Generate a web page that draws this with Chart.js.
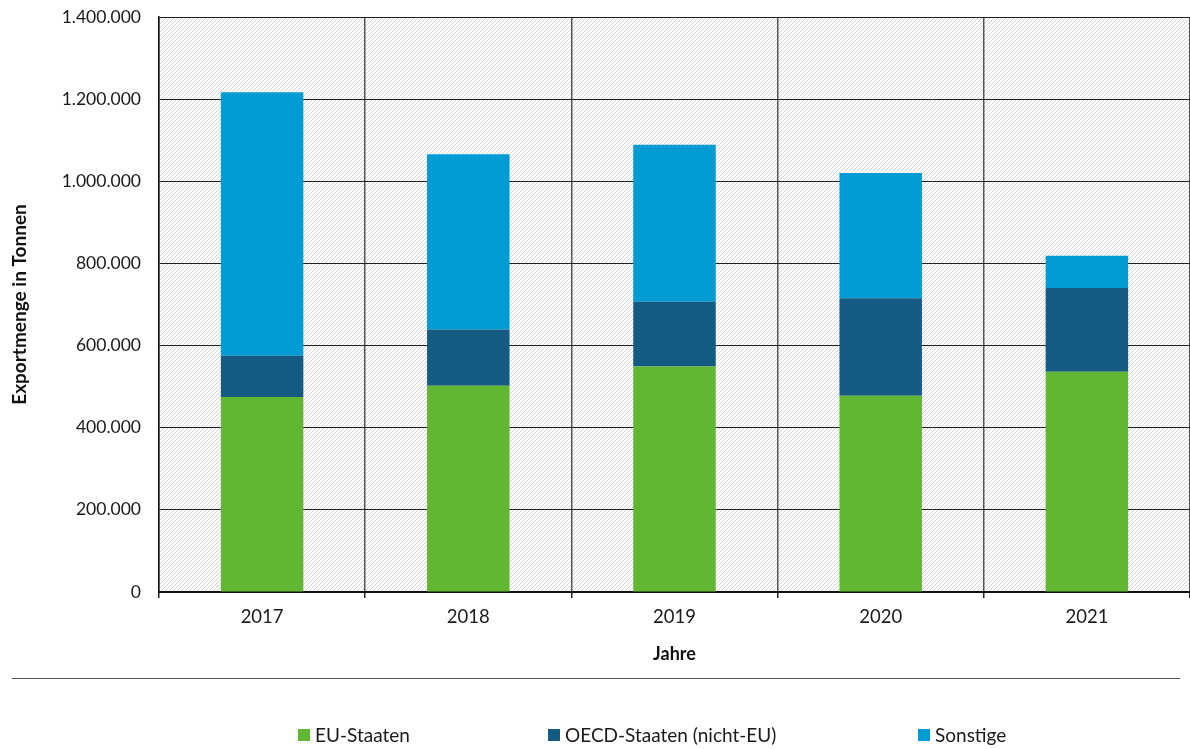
<!DOCTYPE html>
<html lang="de">
<head>
    <meta charset="UTF-8">
    <title>Exportmenge</title>
    <script src="https://cdn.jsdelivr.net/npm/chart.js@4.4.0/dist/chart.umd.min.js"></script>
    <style>
        html, body {
            margin: 0;
            padding: 0;
            background: #fff;
        }
        .chart-container {
            position: relative;
            width: 1190px;
            height: 749px;
        }
    </style>
</head>
<body>

<div class="chart-container">
    <canvas id="chart"></canvas>
</div>

<script>

// Exportmengen in Tonnen je Jahr
var years = ['2017', '2018', '2019', '2020', '2021'];
var euStaaten = [475000, 502000, 549000, 478000, 536000];
var oecdStaaten = [100000, 137000, 158000, 237000, 204000];
var sonstige = [642000, 427000, 382000, 305000, 79000];

var yTicks = [0, 200000, 400000, 600000, 800000, 1000000, 1200000, 1400000];

var FONT = 'Lato, "Open Sans", sans-serif';

function formatDE(v) {
    return String(v).replace(/\B(?=(\d{3})+(?!\d))/g, '.');
}

// schraffierter Hintergrund
function makeHatch() {
    var c = document.createElement('canvas');
    c.width = 4;
    c.height = 4;
    var g = c.getContext('2d');
    g.fillStyle = '#ffffff';
    g.fillRect(0, 0, 4, 4);
    g.strokeStyle = '#d6d6d6';
    g.lineWidth = 1;
    g.beginPath();
    g.moveTo(-1, 5); g.lineTo(5, -1);
    g.moveTo(-1, 1); g.lineTo(1, -1);
    g.moveTo(3, 5); g.lineTo(5, 3);
    g.stroke();
    return g.createPattern(c, 'repeat');
}

var hatchPlugin = {
    id: 'hatch',
    beforeDraw: function(chart) {
        var ctx = chart.ctx, a = chart.chartArea;
        ctx.save();
        ctx.fillStyle = makeHatch();
        ctx.fillRect(a.left, a.top, a.right - a.left, a.bottom - a.top);
        ctx.restore();
    }
};

// Trennlinie und Legende unten
var legendPlugin = {
    id: 'bottomLegend',
    afterDraw: function(chart) {
        var ctx = chart.ctx;
        ctx.save();
        ctx.strokeStyle = '#555';
        ctx.lineWidth = 1;
        ctx.beginPath();
        ctx.moveTo(12, 678.5);
        ctx.lineTo(1180, 678.5);
        ctx.stroke();

        var xs = [298, 548, 918];
        ctx.font = '19px ' + FONT;
        ctx.textBaseline = 'middle';
        chart.data.datasets.forEach(function(ds, i) {
            ctx.fillStyle = ds.backgroundColor;
            ctx.fillRect(xs[i], 729, 12, 12);
            ctx.fillStyle = '#1a1a1a';
            ctx.fillText(ds.label, xs[i] + 17, 736);
        });
        ctx.restore();
    }
};

var ctx = document.getElementById('chart').getContext('2d');

var chart = new Chart(ctx, {
    type: 'bar',
    data: {
        labels: years,
        datasets: [
            {
                label: 'EU-Staaten',
                data: euStaaten,
                backgroundColor: '#62b732',
            },
            {
                label: 'OECD-Staaten (nicht-EU)',
                data: oecdStaaten,
                backgroundColor: '#135b82',
            },
            {
                label: 'Sonstige',
                data: sonstige,
                backgroundColor: '#009cd3',
            },
        ]
    },
    options: {
        responsive: true,
        maintainAspectRatio: false,
        animation: false,
        layout: {
            padding: { top: 17, left: 4, right: 0, bottom: 71 }
        },
        datasets: {
            bar: {
                categoryPercentage: 1,
                barPercentage: 0.4,
            }
        },
        plugins: {
            legend: { display: false },
            tooltip: { enabled: false },
        },
        scales: {
            x: {
                stacked: true,
                grid: {
                    offset: true,
                    color: '#555',
                    lineWidth: 1.5,
                    tickLength: 6,
                    tickColor: '#222',
                },
                border: { color: '#111', width: 2 },
                ticks: {
                    color: '#1a1a1a',
                    padding: 8,
                    font: { family: FONT, size: 18.5 },
                },
                title: {
                    display: true,
                    text: 'Jahre',
                    color: '#111',
                    padding: { top: 0, bottom: 13 },
                    font: { family: FONT, size: 18, weight: 'bold' },
                },
                afterFit: function(scale) {
                    scale.height = 86;
                },
            },
            y: {
                stacked: true,
                min: 0,
                max: 1400000,
                afterBuildTicks: function(scale) {
                    scale.ticks = yTicks.map(function(v) { return { value: v }; });
                },
                grid: {
                    color: '#222',
                    lineWidth: 1,
                    drawTicks: false,
                },
                border: { color: '#111', width: 1.5 },
                ticks: {
                    color: '#1a1a1a',
                    padding: 18,
                    font: { family: FONT, size: 17.5 },
                    callback: function(v) { return formatDE(v); },
                },
                title: {
                    display: true,
                    text: 'Exportmenge in Tonnen',
                    color: '#111',
                    padding: { top: 4, bottom: 0 },
                    font: { family: FONT, size: 19, weight: 'bold' },
                },
                afterFit: function(scale) {
                    scale.width = 155;
                    scale.paddingTop = 10;
                    scale.paddingBottom = 10;
                },
            }
        }
    },
    plugins: [hatchPlugin, legendPlugin]
});

</script>

</body>
</html>
